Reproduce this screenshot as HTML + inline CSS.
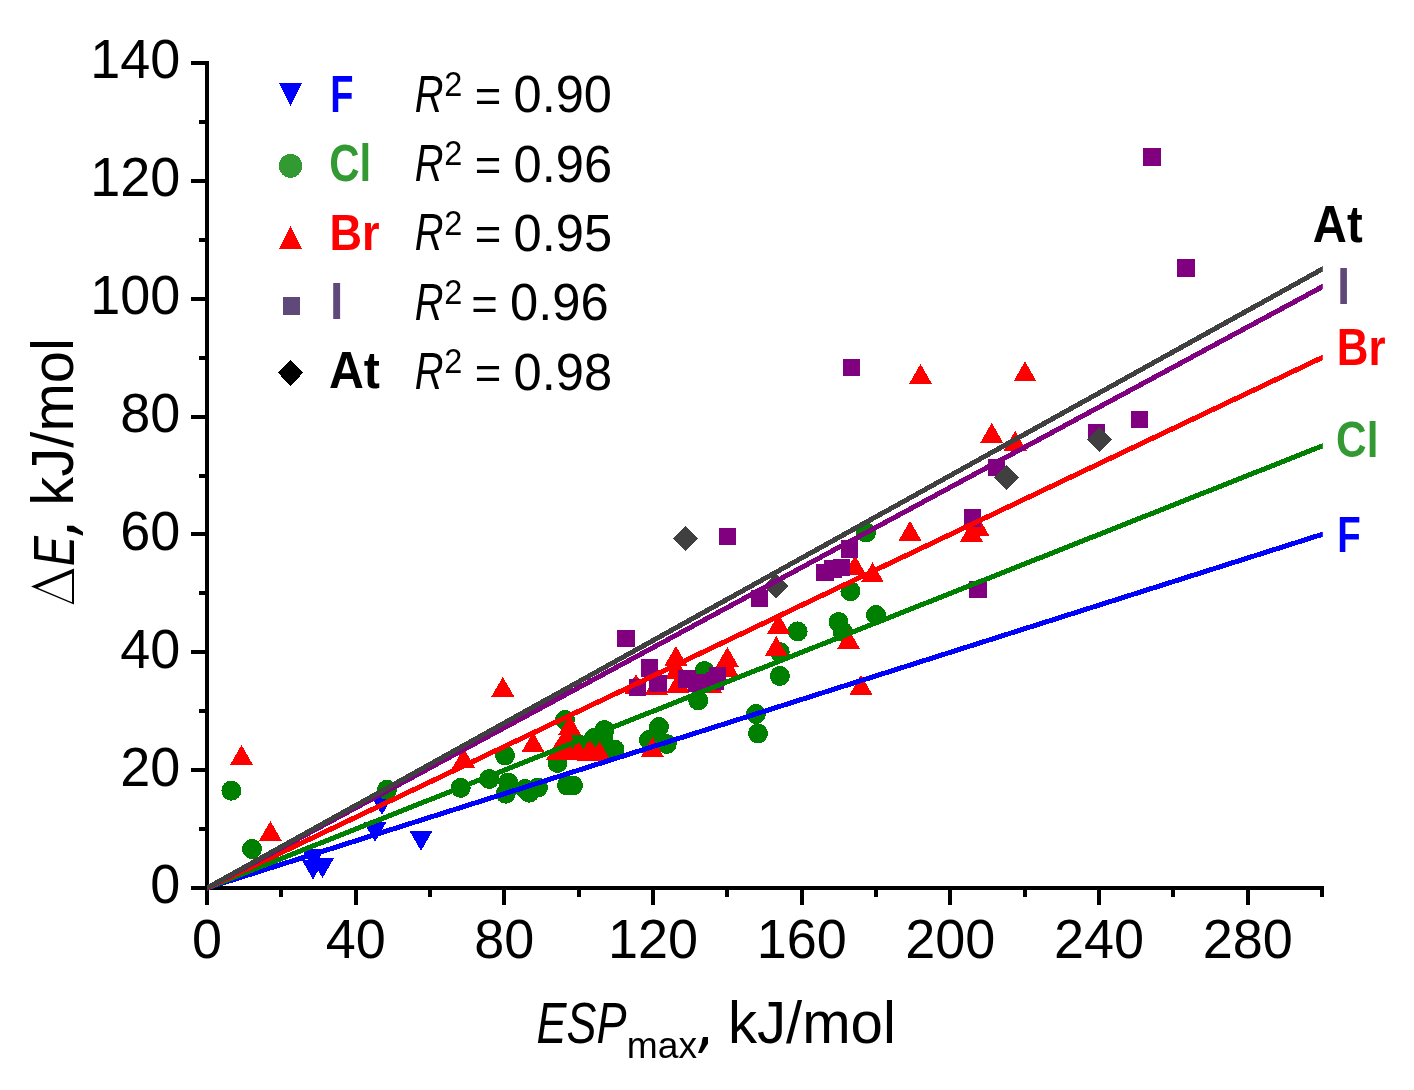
<!DOCTYPE html><html><head><meta charset="utf-8"><style>html,body{margin:0;padding:0;background:#fff;overflow:hidden}svg{display:block;will-change:transform}text{font-family:"Liberation Sans",sans-serif}</style></head><body>
<svg width="1414" height="1090" viewBox="0 0 1414 1090">
<rect width="1414" height="1090" fill="#fff"/>
<g fill="#000" shape-rendering="crispEdges">
<rect x="205" y="61" width="4" height="829"/>
<rect x="205" y="886" width="1119" height="4"/>
<rect x="191" y="886.00" width="14" height="4"/>
<rect x="199" y="827.07" width="6" height="4"/>
<rect x="191" y="768.14" width="14" height="4"/>
<rect x="199" y="709.21" width="6" height="4"/>
<rect x="191" y="650.29" width="14" height="4"/>
<rect x="199" y="591.36" width="6" height="4"/>
<rect x="191" y="532.43" width="14" height="4"/>
<rect x="199" y="473.50" width="6" height="4"/>
<rect x="191" y="414.57" width="14" height="4"/>
<rect x="199" y="355.64" width="6" height="4"/>
<rect x="191" y="296.71" width="14" height="4"/>
<rect x="199" y="237.79" width="6" height="4"/>
<rect x="191" y="178.86" width="14" height="4"/>
<rect x="199" y="119.93" width="6" height="4"/>
<rect x="191" y="61.00" width="14" height="4"/>
<rect x="205.00" y="888" width="4" height="17"/>
<rect x="279.33" y="888" width="4" height="9"/>
<rect x="353.67" y="888" width="4" height="17"/>
<rect x="428.00" y="888" width="4" height="9"/>
<rect x="502.33" y="888" width="4" height="17"/>
<rect x="576.67" y="888" width="4" height="9"/>
<rect x="651.00" y="888" width="4" height="17"/>
<rect x="725.33" y="888" width="4" height="9"/>
<rect x="799.67" y="888" width="4" height="17"/>
<rect x="874.00" y="888" width="4" height="9"/>
<rect x="948.33" y="888" width="4" height="17"/>
<rect x="1022.67" y="888" width="4" height="9"/>
<rect x="1097.00" y="888" width="4" height="17"/>
<rect x="1171.33" y="888" width="4" height="9"/>
<rect x="1245.67" y="888" width="4" height="17"/>
<rect x="1320.00" y="888" width="4" height="9"/>
</g>
<g shape-rendering="crispEdges">
<g fill="#0000ff"><polygon points="301.5,849.0 324.5,849.0 313.0,869.0"/><polygon points="301.5,859.5 324.5,859.5 313.0,879.5"/><polygon points="311.0,858.0 334.0,858.0 322.5,878.0"/><polygon points="363.5,822.0 386.5,822.0 375.0,842.0"/><polygon points="370.5,795.0 393.5,795.0 382.0,815.0"/><polygon points="409.5,831.0 432.5,831.0 421.0,851.0"/></g>
<g fill="#008000"><circle cx="231.4" cy="790.7" r="10"/><circle cx="252" cy="849" r="10"/><circle cx="387" cy="789.7" r="10"/><circle cx="460.7" cy="787.9" r="10"/><circle cx="489.2" cy="779" r="10"/><circle cx="505" cy="755.5" r="10"/><circle cx="508.2" cy="782.5" r="10"/><circle cx="505.7" cy="793.7" r="10"/><circle cx="525" cy="789" r="10"/><circle cx="529.4" cy="792.7" r="10"/><circle cx="538" cy="787.5" r="10"/><circle cx="557.5" cy="763" r="10"/><circle cx="565" cy="720" r="10"/><circle cx="567" cy="785.5" r="10"/><circle cx="573" cy="785.5" r="10"/><circle cx="577" cy="743.5" r="10"/><circle cx="594" cy="738" r="10"/><circle cx="597" cy="746" r="10"/><circle cx="603.5" cy="737" r="10"/><circle cx="604.5" cy="730" r="10"/><circle cx="614.5" cy="749.5" r="10"/><circle cx="649" cy="740" r="10"/><circle cx="659" cy="727" r="10"/><circle cx="666.8" cy="744" r="10"/><circle cx="698.2" cy="700.5" r="10"/><circle cx="704.5" cy="671" r="10"/><circle cx="756" cy="714" r="10"/><circle cx="758" cy="733.5" r="10"/><circle cx="779.9" cy="676" r="10"/><circle cx="779.7" cy="652" r="10"/><circle cx="797.6" cy="631.4" r="10"/><circle cx="838.6" cy="622" r="10"/><circle cx="842.6" cy="631.5" r="10"/><circle cx="850.4" cy="591.2" r="10"/><circle cx="866" cy="532.6" r="10"/><circle cx="876" cy="615" r="10"/></g>
<g fill="#ff0000"><polygon points="241.5,745.0 253.0,765.0 230.0,765.0"/><polygon points="270.4,821.0 281.9,841.0 258.9,841.0"/><polygon points="463.7,748.0 475.2,768.0 452.2,768.0"/><polygon points="502.8,676.8 514.3,696.8 491.3,696.8"/><polygon points="533.0,732.0 544.5,752.0 521.5,752.0"/><polygon points="557.5,739.9 569.0,759.9 546.0,759.9"/><polygon points="565.8,726.4 577.3,746.4 554.3,746.4"/><polygon points="569.7,715.0 581.2,735.0 558.2,735.0"/><polygon points="567.5,739.9 579.0,759.9 556.0,759.9"/><polygon points="578.0,739.9 589.5,759.9 566.5,759.9"/><polygon points="588.4,740.9 599.9,760.9 576.9,760.9"/><polygon points="591.5,741.2 603.0,761.2 580.0,761.2"/><polygon points="599.5,741.2 611.0,761.2 588.0,761.2"/><polygon points="636.0,674.0 647.5,694.0 624.5,694.0"/><polygon points="656.4,674.5 667.9,694.5 644.9,694.5"/><polygon points="652.4,737.0 663.9,757.0 640.9,757.0"/><polygon points="675.9,645.9 687.4,665.9 664.4,665.9"/><polygon points="678.0,672.9 689.5,692.9 666.5,692.9"/><polygon points="676.7,658.8 688.2,678.8 665.2,678.8"/><polygon points="710.7,673.0 722.2,693.0 699.2,693.0"/><polygon points="727.4,647.0 738.9,667.0 715.9,667.0"/><polygon points="727.6,657.0 739.1,677.0 716.1,677.0"/><polygon points="776.3,636.0 787.8,656.0 764.8,656.0"/><polygon points="778.6,613.8 790.1,633.8 767.1,633.8"/><polygon points="848.6,629.0 860.1,649.0 837.1,649.0"/><polygon points="855.0,555.2 866.5,575.2 843.5,575.2"/><polygon points="861.0,674.8 872.5,694.8 849.5,694.8"/><polygon points="872.5,562.4 884.0,582.4 861.0,582.4"/><polygon points="910.0,520.8 921.5,540.8 898.5,540.8"/><polygon points="920.5,364.0 932.0,384.0 909.0,384.0"/><polygon points="971.4,521.8 982.9,541.8 959.9,541.8"/><polygon points="978.0,516.0 989.5,536.0 966.5,536.0"/><polygon points="991.7,422.8 1003.2,442.8 980.2,442.8"/><polygon points="1015.2,430.8 1026.7,450.8 1003.7,450.8"/><polygon points="1025.0,361.4 1036.5,381.4 1013.5,381.4"/></g>
<g fill="#800080"><rect x="617.2" y="629.7" width="17.6" height="17.6"/><rect x="628.7" y="678.7" width="17.6" height="17.6"/><rect x="640.7" y="659.2" width="17.6" height="17.6"/><rect x="649.2" y="674.7" width="17.6" height="17.6"/><rect x="677.9" y="670.2" width="17.6" height="17.6"/><rect x="688.2" y="674.2" width="17.6" height="17.6"/><rect x="706.4" y="672.2" width="17.6" height="17.6"/><rect x="708.7" y="667.2" width="17.6" height="17.6"/><rect x="718.7" y="527.6" width="17.6" height="17.6"/><rect x="750.8" y="589.6" width="17.6" height="17.6"/><rect x="816.2" y="563.6" width="17.6" height="17.6"/><rect x="824.2" y="560.2" width="17.6" height="17.6"/><rect x="832.8" y="558.6" width="17.6" height="17.6"/><rect x="840.7" y="540.2" width="17.6" height="17.6"/><rect x="842.7" y="358.7" width="17.6" height="17.6"/><rect x="963.8" y="509.2" width="17.6" height="17.6"/><rect x="969.2" y="580.7" width="17.6" height="17.6"/><rect x="987.7" y="458.7" width="17.6" height="17.6"/><rect x="1087.7" y="423.7" width="17.6" height="17.6"/><rect x="1130.7" y="410.6" width="17.6" height="17.6"/><rect x="1143.2" y="148.2" width="17.6" height="17.6"/><rect x="1177.2" y="259.2" width="17.6" height="17.6"/></g>
<g fill="#404040"><polygon points="685.6,525.9 698.1,538.4 685.6,550.9 673.1,538.4"/><polygon points="775.5,573.5 788.0,586.0 775.5,598.5 763.0,586.0"/><polygon points="1006.5,464.8 1019.0,477.3 1006.5,489.8 994.0,477.3"/><polygon points="1099.5,426.9 1112.0,439.4 1099.5,451.9 1087.0,439.4"/></g>
</g>
<clipPath id="pc"><rect x="207" y="0" width="1115.8" height="1090"/></clipPath>
<g stroke-width="5" fill="none" shape-rendering="crispEdges" clip-path="url(#pc)">
<line x1="199.57" y1="890.36" x2="1329.43" y2="532.07" stroke="#0000ff"/>
<line x1="199.57" y1="890.95" x2="1329.43" y2="443.09" stroke="#008000"/>
<line x1="199.57" y1="891.54" x2="1329.43" y2="354.11" stroke="#ff0000"/>
<line x1="199.57" y1="892.01" x2="1329.43" y2="282.92" stroke="#800080"/>
<line x1="199.57" y1="892.12" x2="1329.43" y2="265.12" stroke="#404040"/>
</g>
<g font-size="54" fill="#000">
<text transform="translate(180.4,903.40) scale(1,1.045)" text-anchor="end">0</text>
<text transform="translate(180.4,785.54) scale(1,1.045)" text-anchor="end">20</text>
<text transform="translate(180.4,667.69) scale(1,1.045)" text-anchor="end">40</text>
<text transform="translate(180.4,549.83) scale(1,1.045)" text-anchor="end">60</text>
<text transform="translate(180.4,431.97) scale(1,1.045)" text-anchor="end">80</text>
<text transform="translate(180.4,314.11) scale(1,1.045)" text-anchor="end">100</text>
<text transform="translate(180.4,196.26) scale(1,1.045)" text-anchor="end">120</text>
<text transform="translate(180.4,78.40) scale(1,1.045)" text-anchor="end">140</text>
<text transform="translate(207.00,957.6) scale(1,1.045)" text-anchor="middle">0</text>
<text transform="translate(355.67,957.6) scale(1,1.045)" text-anchor="middle">40</text>
<text transform="translate(504.33,957.6) scale(1,1.045)" text-anchor="middle">80</text>
<text transform="translate(653.00,957.6) scale(1,1.045)" text-anchor="middle">120</text>
<text transform="translate(801.67,957.6) scale(1,1.045)" text-anchor="middle">160</text>
<text transform="translate(950.33,957.6) scale(1,1.045)" text-anchor="middle">200</text>
<text transform="translate(1099.00,957.6) scale(1,1.045)" text-anchor="middle">240</text>
<text transform="translate(1247.67,957.6) scale(1,1.045)" text-anchor="middle">280</text>
</g>
<text transform="translate(536.41,1043.43) scale(0.7752,0.9790)" font-size="58" font-weight="normal" font-style="italic" fill="#000">ESP</text>
<text transform="translate(626.75,1058.43) scale(0.9789,0.9700)" font-size="38" font-weight="normal" font-style="normal" fill="#000">max</text>
<path fill="#000" transform="translate(698,1044)" d="M5.1,-7 L10,-7 L10,-0.5 L3.8,9 L0,9 L3.5,0 L4.3,-5 Z"/>
<text transform="translate(727.90,1043.41) scale(1.0026,1.0087)" font-size="58" font-weight="normal" font-style="normal" fill="#000">kJ/mol</text>
<g transform="translate(74,604.6) rotate(-90)"><path fill="#000" fill-rule="evenodd" d="M0,0 L18,-43 L36,0 Z M2.46,-2 L16.81,-36.27 L31.15,-2 Z"/><text transform="translate(38.71,0.00) scale(0.7725,0.9849)" font-size="58" font-weight="normal" font-style="italic" fill="#000">E</text><path fill="#000" transform="translate(68.8,0)" d="M5.1,-7 L10,-7 L10,-0.5 L3.8,9 L0,9 L3.5,0 L4.3,-5 Z"/><text transform="translate(98.91,-0.59) scale(1.0001,1.0087)" font-size="58" font-weight="normal" font-style="normal" fill="#000">kJ/mol</text></g>
<text transform="translate(330.35,111.90) scale(0.7613,1.0233)" font-size="50" font-weight="bold" font-style="normal" fill="#0000ff">F</text>
<text transform="translate(414.77,111.80) scale(0.7958,1.0174)" font-size="50" font-weight="normal" font-style="italic" fill="#000">R</text>
<text transform="translate(444.28,96.10) scale(0.9546,1.0113)" font-size="34" font-weight="normal" font-style="normal" fill="#000">2</text>
<text transform="translate(474.77,111.78) scale(0.9095,0.9379)" font-size="50" font-weight="normal" font-style="normal" fill="#000">=</text>
<text transform="translate(513.53,112.39) scale(1.0118,1.0198)" font-size="50" font-weight="normal" font-style="normal" fill="#000">0.90</text>
<text transform="translate(329.28,181.09) scale(0.8401,1.0231)" font-size="50" font-weight="bold" font-style="normal" fill="#339933">Cl</text>
<text transform="translate(414.77,181.10) scale(0.7958,1.0174)" font-size="50" font-weight="normal" font-style="italic" fill="#000">R</text>
<text transform="translate(444.28,165.40) scale(0.9546,1.0113)" font-size="34" font-weight="normal" font-style="normal" fill="#000">2</text>
<text transform="translate(474.77,181.08) scale(0.9095,0.9379)" font-size="50" font-weight="normal" font-style="normal" fill="#000">=</text>
<text transform="translate(513.52,181.69) scale(1.0145,1.0198)" font-size="50" font-weight="normal" font-style="normal" fill="#000">0.96</text>
<text transform="translate(329.48,250.00) scale(0.9018,1.0145)" font-size="50" font-weight="bold" font-style="normal" fill="#ff0000">Br</text>
<text transform="translate(414.77,250.40) scale(0.7958,1.0174)" font-size="50" font-weight="normal" font-style="italic" fill="#000">R</text>
<text transform="translate(444.28,234.70) scale(0.9546,1.0113)" font-size="34" font-weight="normal" font-style="normal" fill="#000">2</text>
<text transform="translate(474.77,250.38) scale(0.9095,0.9379)" font-size="50" font-weight="normal" font-style="normal" fill="#000">=</text>
<text transform="translate(513.52,250.99) scale(1.0134,1.0198)" font-size="50" font-weight="normal" font-style="normal" fill="#000">0.95</text>
<text transform="translate(329.89,319.20) scale(0.9583,1.0233)" font-size="50" font-weight="bold" font-style="normal" fill="#5f497a">I</text>
<text transform="translate(414.77,319.70) scale(0.7958,1.0174)" font-size="50" font-weight="normal" font-style="italic" fill="#000">R</text>
<text transform="translate(444.28,304.00) scale(0.9546,1.0113)" font-size="34" font-weight="normal" font-style="normal" fill="#000">2</text>
<text transform="translate(471.27,319.68) scale(0.9095,0.9379)" font-size="50" font-weight="normal" font-style="normal" fill="#000">=</text>
<text transform="translate(510.02,320.29) scale(1.0145,1.0198)" font-size="50" font-weight="normal" font-style="normal" fill="#000">0.96</text>
<text transform="translate(328.89,387.94) scale(0.9666,1.0215)" font-size="50" font-weight="bold" font-style="normal" fill="#000000">At</text>
<text transform="translate(414.77,389.00) scale(0.7958,1.0174)" font-size="50" font-weight="normal" font-style="italic" fill="#000">R</text>
<text transform="translate(444.28,373.30) scale(0.9546,1.0113)" font-size="34" font-weight="normal" font-style="normal" fill="#000">2</text>
<text transform="translate(474.77,388.98) scale(0.9095,0.9379)" font-size="50" font-weight="normal" font-style="normal" fill="#000">=</text>
<text transform="translate(513.52,389.59) scale(1.0139,1.0198)" font-size="50" font-weight="normal" font-style="normal" fill="#000">0.98</text>
<g shape-rendering="crispEdges">
<polygon fill="#0000ff" points="279.0,83.0 302.0,83.0 290.5,106.0"/>
<circle fill="#339933" cx="290.5" cy="165.9" r="11.8"/>
<polygon fill="#ff0000" points="290.5,225.9 302.0,248.9 279.0,248.9"/>
<rect fill="#5f497a" x="283" y="297" width="17" height="17.6"/>
<polygon fill="#000" points="290.5,359.9 303.0,372.9 290.5,385.9 278.0,372.9"/>
</g>
<text transform="translate(1312.82,241.94) scale(0.9450,1.0273)" font-size="50" font-weight="bold" font-style="normal" fill="#000000">At</text>
<text transform="translate(1337.13,303.70) scale(0.9167,1.0203)" font-size="50" font-weight="bold" font-style="normal" fill="#5f497a">I</text>
<text transform="translate(1336.86,364.60) scale(0.8785,1.0291)" font-size="50" font-weight="bold" font-style="normal" fill="#ff0000">Br</text>
<text transform="translate(1336.06,456.89) scale(0.8468,1.0177)" font-size="50" font-weight="bold" font-style="normal" fill="#339933">Cl</text>
<text transform="translate(1337.22,551.60) scale(0.7692,1.0058)" font-size="50" font-weight="bold" font-style="normal" fill="#0000ff">F</text>
</svg></body></html>
